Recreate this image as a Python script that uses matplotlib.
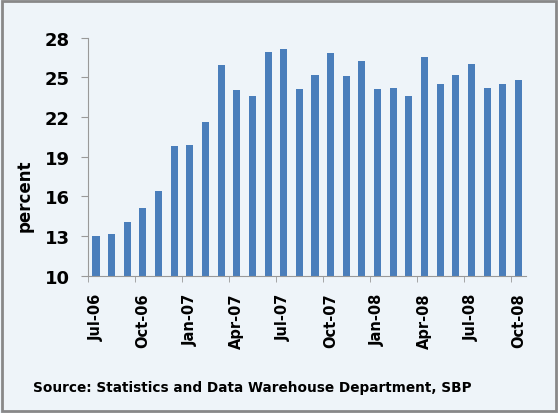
"""Monthly percent series, Jul-06 to Oct-08 (SBP bar chart)."""

import matplotlib

matplotlib.use("Agg")
import matplotlib.pyplot as plt  # noqa: E402
import numpy as np  # noqa: E402

months = [
    "Jul-06", "Aug-06", "Sep-06", "Oct-06", "Nov-06", "Dec-06",
    "Jan-07", "Feb-07", "Mar-07", "Apr-07", "May-07", "Jun-07",
    "Jul-07", "Aug-07", "Sep-07", "Oct-07", "Nov-07", "Dec-07",
    "Jan-08", "Feb-08", "Mar-08", "Apr-08", "May-08", "Jun-08",
    "Jul-08", "Aug-08", "Sep-08", "Oct-08",
]
values = [
    13.0, 13.2, 14.1, 15.1, 16.4, 19.8, 19.9, 21.6, 25.9, 24.0,
    23.6, 26.9, 27.1, 24.1, 25.2, 26.8, 25.1, 26.2, 24.1, 24.2,
    23.6, 26.5, 24.5, 25.2, 26.0, 24.2, 24.5, 24.8,
]
y_ticks = [10, 13, 16, 19, 22, 25, 28]
source = "Source: Statistics and Data Warehouse Department, SBP"

BAR = "#4a7ebb"
BG = "#eef4f9"
FONT = ["Liberation Sans Narrow", "DejaVu Sans"]

fig = plt.figure(figsize=(5.58, 4.14), dpi=100, facecolor=BG)
ax = fig.add_axes([0.158, 0.331, 0.785, 0.576], facecolor=BG)

x = np.arange(len(values))
ax.bar(x, values, width=0.45, color=BAR, zorder=2)

ax.set_xlim(-0.5, len(values) - 0.5)
ax.set_ylim(10, 28)
ax.set_yticks(y_ticks)
ax.set_yticklabels([str(t) for t in y_ticks], family=FONT,
                   fontweight="bold", fontsize=13)

# labels every third month, tick marks on category boundaries
ax.set_xticks(x[::3])
ax.set_xticklabels(months[::3], rotation=90, family=FONT,
                   fontweight="bold", fontsize=10.5)
ax.tick_params(axis="x", length=0, pad=12)
ax.set_xticks(np.arange(-0.5, len(values), 3), minor=True)
ax.tick_params(axis="x", which="minor", length=4, color="#999999")
ax.tick_params(axis="y", length=5, color="#999999", pad=8)

for side in ("top", "right"):
    ax.spines[side].set_visible(False)
for side in ("left", "bottom"):
    ax.spines[side].set_color("#999999")

ax.set_ylabel("percent", family=FONT, fontweight="bold", fontsize=12)
ax.yaxis.set_label_coords(-0.125, 0.34)

fig.text(0.06, 0.063, source, family=FONT, fontweight="bold",
         fontsize=9.8, ha="left", va="center")

# grey frame round the whole picture
fig.patches.append(plt.Rectangle((0.003, 0.004), 0.994, 0.992,
                                 transform=fig.transFigure, fill=False,
                                 edgecolor="#888888", linewidth=2))

fig.savefig("out.png", dpi=100, facecolor=BG)
